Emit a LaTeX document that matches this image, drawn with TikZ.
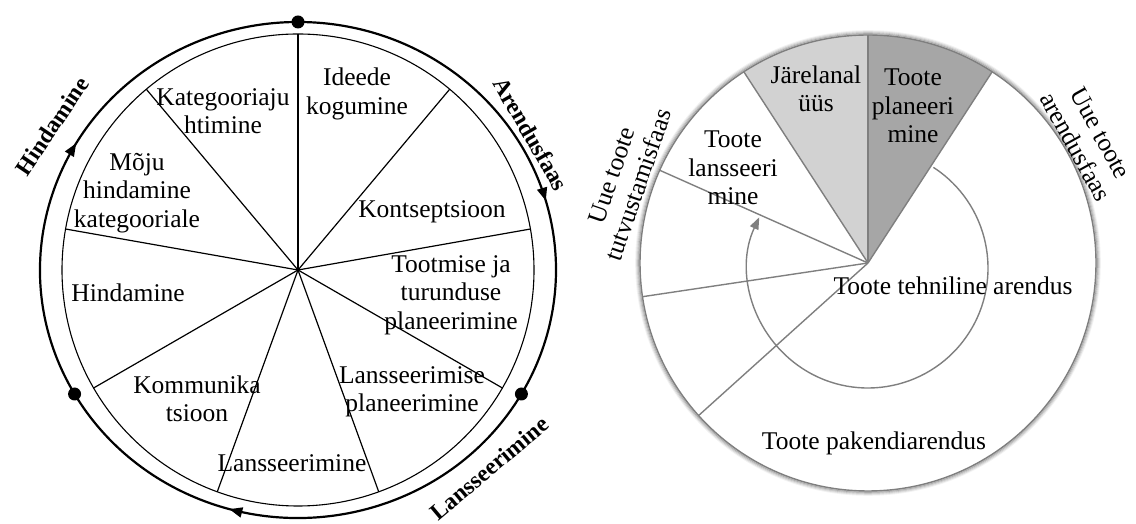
\documentclass[tikz,border=0pt]{standalone}
\usepackage{fontspec}
\setmainfont{Liberation Serif}
\usetikzlibrary{arrows.meta,decorations.markings}
\definecolor{lineGray}{HTML}{7F7F7F}
\definecolor{darkSec}{HTML}{A6A6A6}
\definecolor{lightSec}{HTML}{D2D2D2}
\begin{document}
\begin{tikzpicture}[x=1pt,y=1pt,
  lbl/.style={font=\fontsize{25.5}{28.5}\selectfont, align=center, inner sep=0pt},
  phase/.style={font=\fontsize{23.5}{28}\selectfont\bfseries, inner sep=0pt},
  spoke/.style={line width=1.2pt},
  ring/.style={line width=1.1pt},
  outerring/.style={line width=2.2pt},
  dot/.style={circle, fill=black, inner sep=0pt, minimum size=13pt},
  gline/.style={draw=lineGray, line width=1.4pt},
  mid arrow/.style={postaction={decorate}, decoration={markings,
      mark=at position #1 with {\arrow{Triangle[length=13pt,width=10pt]}}}}]
\useasboundingbox (0,0) rectangle (1136,524);

% ---------- left wheel ----------
\coordinate (L) at (298,254);
\foreach \a [count=\i] in {90,50,10,-30,-70,-110,-150,170,130}
  \path (L) ++(\a:236) coordinate (Ls\i);
\draw[ring] (L) circle (236);
\foreach \i in {1,...,9}
  \draw[spoke] (L) -- (Ls\i);

% phase ring with its three boundaries
\path (L) ++(90:258 and 248) coordinate (pA);
\path (L) ++(-30:258 and 248) coordinate (pB);
\path (L) ++(210:258 and 248) coordinate (pC);
\draw[outerring, mid arrow=0.62] (pA) arc[start angle=90, end angle=-30, x radius=258, y radius=248];
\draw[outerring, mid arrow=0.63] (pB) arc[start angle=-30, end angle=-150, x radius=258, y radius=248];
\draw[outerring, mid arrow=0.5] (pC) arc[start angle=210, end angle=90, x radius=258, y radius=248];
\node[dot] (dA) at (pA) {};
\node[dot] (dB) at (pB) {};
\node[dot] (dC) at (pC) {};

\node[phase, rotate=-60] (phArendus) at (531,390) {Arendusfaas};
\node[phase, rotate=40] (phLanss) at (489,56) {Lansseerimine};
\node[phase, rotate=56] (phHind) at (52,398) {Hindamine};

\node[lbl] (s1) at (357,430) {Ideede\\kogumine};
\node[lbl] (s2) at (432,312) {Kontseptsioon};
\node[lbl] (s3) at (451,229) {Tootmise ja\\turunduse\\planeerimine};
\node[lbl] (s4) at (412,132) {Lansseerimise\\planeerimine};
\node[lbl] (s5) at (292,61) {Lansseerimine};
\node[lbl] (s6) at (197,125) {Kommunika\\tsioon};
\node[lbl] (s7) at (128,231) {Hindamine};
\node[lbl] (s8) at (137,331) {Mõju\\hindamine\\kategooriale};
\node[lbl] (s9) at (223,413) {Kategooriaju\\htimine};

% ---------- right wheel ----------
\coordinate (R) at (868,261);
\foreach \d/\o in {4/0.05,3/0.09,2/0.15,1/0.22}
  \draw[black, opacity=\o, line width=1.6pt] (R) circle (228+\d);
\fill[darkSec] (R) -- ++(57:228) arc[start angle=57, end angle=90, radius=228] -- cycle;
\fill[lightSec] (R) -- ++(90:228) arc[start angle=90, end angle=123, radius=228] -- cycle;
\foreach \a/\n in {90/t,57/a,123/b,156/c,188.5/d,222/e}
  \path (R) ++(\a:228) coordinate (Rs\n);
\foreach \n in {t,a,b,c,d,e}
  \draw[gline] (R) -- (Rs\n);
\draw[gline] (R) circle (228);

% development loop
\coordinate (T) at (868,256);
\path (T) ++(57:120) coordinate (Ta);
\draw[gline, -{Triangle[length=12pt,width=9pt,fill=lineGray]}] (Ta) arc[start angle=57, end angle=-205, radius=120];

\node[lbl] (r1) at (816,435) {Järelanal\\üüs};
\node[lbl] (r2) at (913,418) {Toote\\planeeri\\mine};
\node[lbl] (r3) at (733,356) {Toote\\lansseeri\\mine};
\node[lbl] (r4) at (953,238) {Toote tehniline arendus};
\node[lbl] (r5) at (874,81) {Toote pakendiarendus};
\node[lbl, rotate=71] (r6) at (625,344) {Uue toote\\tutvustamisfaas};
\node[lbl, rotate=-61] (r7) at (1088,384) {Uue toote\\arendusfaas};
\end{tikzpicture}
\end{document}
